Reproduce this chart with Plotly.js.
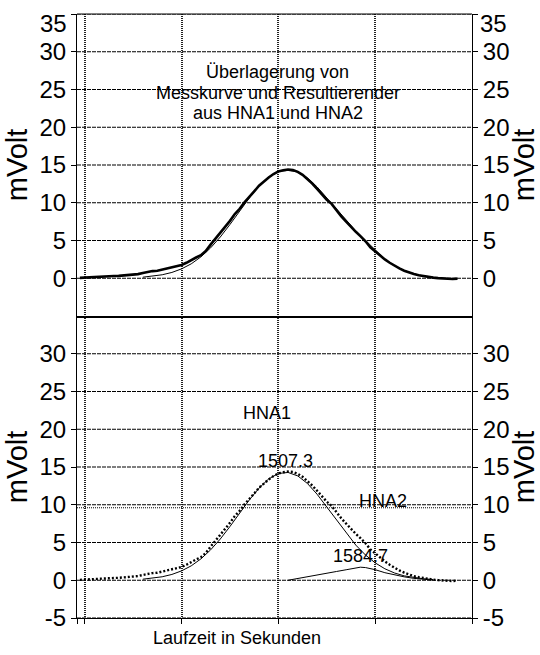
<!DOCTYPE html>
<html>
<head>
<meta charset="utf-8">
<script src="https://cdn.plot.ly/plotly-3.0.1.min.js"></script>
<style>
  html, body { margin: 0; padding: 0; background: #fff; }
  #chart { width: 540px; height: 655px; }
</style>
</head>
<body>
<div id="chart"></div>
<script>
// Measured detector signal (mV) over run time (s)
const timeMeasured = [
  1295, 1300, 1305, 1310, 1315, 1320, 1325, 1330, 1335, 1340,
  1345, 1350, 1355, 1360, 1365, 1370, 1375, 1380, 1385, 1390,
  1395, 1400, 1405, 1410, 1415, 1420, 1425, 1430, 1435, 1440,
  1445, 1450, 1455, 1460, 1465, 1470, 1475, 1480, 1485, 1490,
  1495, 1500, 1505, 1510, 1515, 1520, 1525, 1530, 1535, 1540,
  1545, 1550, 1555, 1560, 1565, 1570, 1575, 1580, 1585, 1590,
  1595, 1600, 1605, 1610, 1615, 1620, 1625, 1630, 1635, 1640,
  1645, 1650, 1655, 1660, 1665, 1670, 1675, 1680, 1685
];
const measured = [
  0.05, 0.10, 0.12, 0.15, 0.18, 0.22, 0.25, 0.30, 0.32, 0.38,
  0.42, 0.48, 0.55, 0.70, 0.85, 0.95, 1.00, 1.15, 1.30, 1.45,
  1.55, 1.75, 2.05, 2.45, 2.75, 3.05, 3.60, 4.45, 5.20, 5.95,
  6.80, 7.60, 8.50, 9.20, 10.05, 10.85, 11.50, 12.25, 12.85, 13.35,
  13.80, 14.15, 14.30, 14.40, 14.35, 14.10, 13.70, 13.15, 12.55, 11.85,
  11.15, 10.40, 9.85, 9.00, 8.20, 7.50, 6.80, 6.15, 5.55, 4.90,
  4.10, 3.55, 3.05, 2.50, 2.05, 1.65, 1.30, 1.00, 0.75, 0.55,
  0.40, 0.28, 0.15, 0.08, 0.02, -0.05, -0.08, -0.10, -0.05
];

// Fitted component HNA1 and the resulting sum HNA1 + HNA2
const timeModel = [
  1360, 1370, 1380, 1390, 1400, 1410, 1420, 1430, 1440, 1450,
  1460, 1470, 1480, 1490, 1500, 1507.3, 1510, 1520, 1530, 1540,
  1550, 1560, 1570, 1580, 1590, 1600, 1610, 1620, 1630, 1640,
  1650, 1660
];
const hna1 = [
  0.14, 0.26, 0.46, 0.77, 1.24, 1.91, 2.83, 4.02, 5.46, 7.12,
  8.89, 10.64, 12.20, 13.42, 14.14, 14.30, 14.28, 13.82, 12.82, 11.39,
  9.71, 7.92, 6.20, 4.65, 3.34, 2.30, 1.52, 0.96, 0.58, 0.34,
  0.19, 0.10
];
const resultant = [
  0.14, 0.26, 0.46, 0.77, 1.24, 1.91, 2.83, 4.02, 5.46, 7.12,
  8.89, 10.64, 12.20, 13.42, 14.14, 14.30, 14.28, 14.07, 13.30, 12.10,
  10.64, 9.08, 7.59, 6.27, 5.02, 3.70, 2.52, 1.66, 1.03, 0.59,
  0.29, 0.12
];

// Fitted component HNA2
const timeHna2 = [
  1510, 1520, 1530, 1540, 1550, 1560, 1570, 1580, 1584.7, 1590,
  1600, 1610, 1620, 1630, 1640, 1650, 1660
];
const hna2 = [
  0.00, 0.25, 0.48, 0.71, 0.93, 1.16, 1.39, 1.62, 1.73, 1.68,
  1.40, 1.00, 0.70, 0.45, 0.25, 0.10, 0.02
];

// Peak positions (s) and heights (mV) of the two components
const peakTimes = [1507.3, 1584.7];
const peakHeights = [14.3, 1.73];
const peakNames = ['HNA1', 'HNA2'];

// Axis ticks
const timeTicks = [1292, 1300, 1400, 1500, 1600, 1700];
const voltTicksTop = [0, 5, 10, 15, 20, 25, 30, 35];
const voltTicksBottom = [-5, 0, 5, 10, 15, 20, 25, 30];
const timeRange = [1292, 1700];
const voltRange = [-5, 35];
const referenceLevel = 9.6;

const FONT = 'Liberation Sans, Arial, sans-serif';

// horizontal grid lines at every value tick, drawn first so curves lie on top
function gridTraces(ticks, xaxis, yaxis) {
  return ticks.map(function (v) {
    return { x: timeRange, y: [v, v], xaxis: xaxis, yaxis: yaxis, mode: 'lines',
      line: { color: '#000', width: 1.2, dash: '4px,1px' }, hoverinfo: 'skip' };
  });
}

const traces = [].concat(
  gridTraces(voltTicksTop, 'x2', 'y2'),
  gridTraces(voltTicksBottom, 'x', 'y'),
  [
    // dotted reference level in the lower panel
    { x: timeRange, y: [referenceLevel, referenceLevel], xaxis: 'x', yaxis: 'y',
      mode: 'lines', line: { color: '#000', width: 1, dash: '1px,1px' }, hoverinfo: 'skip' },
    // upper panel: measurement vs. resulting curve
    { x: timeModel, y: resultant, xaxis: 'x2', yaxis: 'y2', mode: 'lines',
      line: { color: '#000', width: 1 }, hoverinfo: 'skip' },
    { x: timeMeasured, y: measured, xaxis: 'x2', yaxis: 'y2', mode: 'lines',
      line: { color: '#000', width: 2.6 }, hoverinfo: 'skip' },
    // lower panel: measurement and both components
    { x: timeMeasured, y: measured, xaxis: 'x', yaxis: 'y', mode: 'lines',
      line: { color: '#000', width: 2.4, dash: '2px,2px' }, hoverinfo: 'skip' },
    { x: timeModel, y: hna1, xaxis: 'x', yaxis: 'y', mode: 'lines',
      line: { color: '#000', width: 1 }, hoverinfo: 'skip' },
    { x: timeHna2, y: hna2, xaxis: 'x', yaxis: 'y', mode: 'lines',
      line: { color: '#000', width: 1 }, hoverinfo: 'skip' },
    // invisible copies so that the right-hand axes are drawn
    { x: timeMeasured, y: measured, xaxis: 'x', yaxis: 'y3', mode: 'lines',
      line: { color: 'rgba(0,0,0,0)', width: 0 }, hoverinfo: 'skip' },
    { x: timeMeasured, y: measured, xaxis: 'x2', yaxis: 'y4', mode: 'lines',
      line: { color: 'rgba(0,0,0,0)', width: 0 }, hoverinfo: 'skip' }
  ]
);

const tickFont = { family: FONT, size: 24, color: '#000' };
const titleFont = { family: FONT, size: 29, color: '#000' };

// The top label of the upper panel sits just inside the frame, so it is
// placed separately as an annotation.
function tickLabels(ticks, topInside) {
  return ticks.map(function (v, i) {
    return (topInside && i === ticks.length - 1) ? '' : String(v);
  });
}

function voltAxis(domain, ticks, topInside, extra) {
  return Object.assign({
    domain: domain, range: voltRange, autorange: false,
    tickmode: 'array', tickvals: ticks,
    ticktext: tickLabels(ticks, topInside), tickfont: tickFont,
    ticks: 'outside', ticklen: 5, tickcolor: '#000', tickwidth: 1,
    showline: true, linecolor: '#000', linewidth: 1,
    showgrid: false, zeroline: false, fixedrange: true,
    title: { text: 'mVolt', font: titleFont, standoff: 3 }
  }, extra);
}

const annFont = { family: FONT, size: 18, color: '#000' };
function label(text, xref, yref, x, y, yshift) {
  return { text: text, xref: xref, yref: yref, x: x, y: y, yshift: yshift || 0,
    xanchor: 'center', yanchor: 'middle', showarrow: false, font: annFont };
}

const topVal = voltTicksTop[voltTicksTop.length - 1];
function insideTopLabel(side) {
  return { text: String(topVal), xref: 'x2 domain', yref: 'y2',
    x: side === 'left' ? 0 : 1, y: topVal,
    xanchor: side === 'left' ? 'right' : 'left', yanchor: 'middle',
    xshift: side === 'left' ? -8 : 6, yshift: -9,
    showarrow: false, font: tickFont };
}

const layout = {
  width: 540, height: 655,
  margin: { l: 77, r: 68, t: 14, b: 37 },
  paper_bgcolor: '#fff', plot_bgcolor: '#fff',
  showlegend: false,
  font: { family: FONT, color: '#000' },
  xaxis: {
    domain: [0, 1], anchor: 'y', range: timeRange,
    tickmode: 'array', tickvals: timeTicks, showticklabels: false,
    ticks: 'outside', ticklen: 5, tickcolor: '#000',
    showline: true, linecolor: '#000', linewidth: 1,
    showgrid: true, gridcolor: '#222', gridwidth: 2, griddash: '1px,1px',
    zeroline: false, fixedrange: true
  },
  xaxis2: {
    domain: [0, 1], anchor: 'y2', range: timeRange,
    tickmode: 'array', tickvals: timeTicks, showticklabels: false, ticks: '',
    showline: true, linecolor: '#000', linewidth: 2,
    showgrid: true, gridcolor: '#222', gridwidth: 2, griddash: '1px,1px',
    zeroline: false, fixedrange: true
  },
  yaxis: voltAxis([0, 0.5], voltTicksBottom, false, { anchor: 'x' }),
  yaxis2: voltAxis([0.5, 1], voltTicksTop, true, { anchor: 'x2' }),
  yaxis3: voltAxis([0, 0.5], voltTicksBottom, false,
    { anchor: 'x', overlaying: 'y', side: 'right' }),
  yaxis4: voltAxis([0.5, 1], voltTicksTop, true,
    { anchor: 'x2', overlaying: 'y2', side: 'right' }),
  shapes: [
    // frame line across the top of the upper panel
    { type: 'line', xref: 'x2 domain', yref: 'y2 domain', x0: 0, x1: 1, y0: 1, y1: 1,
      line: { color: '#000', width: 1 } }
  ],
  annotations: [
    label('Überlagerung von', 'paper', 'paper', 0.508, 0.9045),
    label('Messkurve und Resultierender', 'paper', 'paper', 0.508, 0.8698),
    label('aus HNA1 und HNA2', 'paper', 'paper', 0.508, 0.8357),
    label(peakNames[0], 'paper', 'paper', 0.4806, 0.3397),
    label(peakNames[1], 'paper', 'paper', 0.7753, 0.1933),
    label(peakTimes[0].toFixed(1), 'x', 'y', peakTimes[0], peakHeights[0], 11),
    label(peakTimes[1].toFixed(1), 'x', 'y', peakTimes[1], peakHeights[1], 11),
    label('Laufzeit in Sekunden', 'paper', 'paper', 0.4054, -0.0326),
    insideTopLabel('left'),
    insideTopLabel('right')
  ]
};

Plotly.newPlot('chart', traces, layout, { staticPlot: true, displayModeBar: false });
</script>
</body>
</html>
